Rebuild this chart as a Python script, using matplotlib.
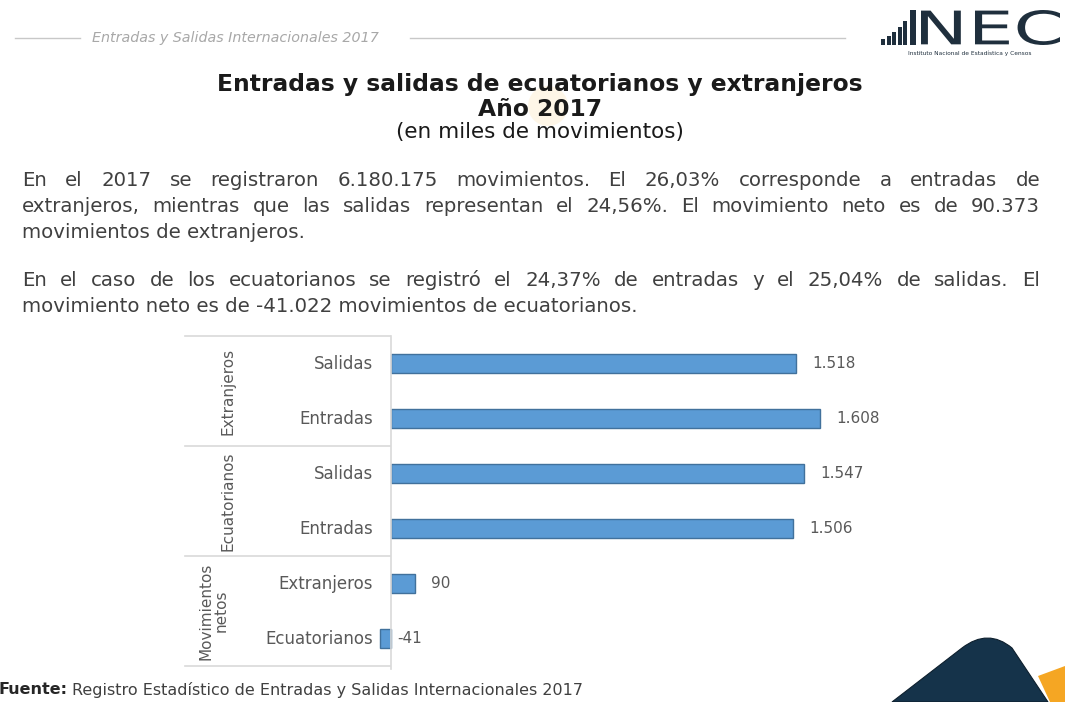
import matplotlib as mpl
import matplotlib.pyplot as plt
from matplotlib.patches import Polygon, Rectangle, Circle, PathPatch
from matplotlib.path import Path
from matplotlib.textpath import TextPath
from matplotlib.transforms import blended_transform_factory, Affine2D

# data (miles de movimientos)
grupos = ["Extranjeros", "Ecuatorianos", "Movimientos\nnetos"]
categorias = ["Salidas", "Entradas", "Salidas", "Entradas", "Extranjeros", "Ecuatorianos"]
valores = [1518, 1608, 1547, 1506, 90, -41]

titulo = "Entradas y salidas de ecuatorianos y extranjeros"
subtitulo = "Año 2017"
unidad = "(en miles de movimientos)"
encabezado = "Entradas y Salidas Internacionales 2017"
parrafo = [
    ("En el 2017 se registraron 6.180.175 movimientos. El 26,03% corresponde a entradas de", True),
    ("extranjeros, mientras que las salidas representan el 24,56%. El movimiento neto es de 90.373", True),
    ("movimientos de extranjeros.", False),
    ("En el caso de los ecuatorianos se registró el 24,37% de entradas y el 25,04% de salidas. El", True),
    ("movimiento neto es de -41.022 movimientos de ecuatorianos.", False),
]
fuente = "Registro Estadístico de Entradas y Salidas Internacionales 2017"

W, H = 1065, 702
mpl.rc('font', family='DejaVu Sans')
fig = plt.figure(figsize=(W / 100, H / 100), dpi=100)

# background axes in pixel coordinates for the slide decoration
bg = fig.add_axes([0, 0, 1, 1], zorder=0)
bg.set_xlim(0, W)
bg.set_ylim(H, 0)
bg.axis("off")

txt = "#404040"
navy = "#15334a"
logo = "#1f2f3d"

# header
bg.plot([15, 80], [38, 38], color="#c8c8c8", lw=1)
bg.plot([410, 845], [38, 38], color="#c8c8c8", lw=1)
bg.text(92, 38, encabezado, fontsize=10.3, style="italic", color="#a8a8a8", va="center")

# logo
for i, h in enumerate([6, 9, 13, 18, 24]):
    bg.add_patch(Rectangle((881 + i * 5.5, 45 - h), 4, h, color=logo, lw=0))
bg.add_patch(Rectangle((910, 10), 6, 35, color=logo, lw=0))
tp = TextPath((0, 0), "NEC", size=10)
ext = tp.get_extents()
sx = (1060 - 921) / ext.width
sy = 35 / ext.height
tp = tp.transformed(Affine2D().translate(-ext.x0, -ext.y0).scale(sx, -sy).translate(921, 45))
bg.add_patch(PathPatch(tp, facecolor=logo, lw=0))
bg.text(970, 53, "Instituto Nacional de Estadística y Censos", fontsize=4.2, color=logo,
        va="center", ha="center")

# faint glow behind the title
bg.add_patch(Circle((548, 106), 20, color="#fbd48a", alpha=0.2, lw=0))

# title
bg.text(540, 85, titulo, fontsize=16.8, fontweight="bold", color="#1a1a1a", ha="center", va="center")
bg.text(540, 109, subtitulo, fontsize=16.8, fontweight="bold", color="#1a1a1a", ha="center", va="center")
bg.text(540, 132, unidad, fontsize=15.5, color="#1a1a1a", ha="center", va="center")

# paragraph, justified lines
renderer = fig.canvas.get_renderer()
ys = [180, 206, 232, 280, 306]
x0, x1 = 22, 1040
psize = 14.2
for (line, just), y in zip(parrafo, ys):
    if not just:
        bg.text(x0, y, line, fontsize=psize, color=txt, va="center")
        continue
    words = line.split(" ")
    objs = [bg.text(0, y, w, fontsize=psize, color=txt, va="center") for w in words]
    widths = [o.get_window_extent(renderer).width for o in objs]
    gap = (x1 - x0 - sum(widths)) / (len(words) - 1)
    x = x0
    for o, w in zip(objs, widths):
        o.set_x(x)
        x += w + gap

# footer
f1 = bg.text(-2, 690, "Fuente:", fontsize=11.5, fontweight="bold", color="#262626", va="center")
fw = f1.get_window_extent(renderer).width
bg.text(-2 + fw + 5, 690, fuente, fontsize=11.5, color="#404040", va="center")

# corner shapes
bg.add_patch(Polygon([(1038, 676), (1065, 666), (1065, 702), (1050, 702)], color="#f5a623", lw=0))
verts = [(892, 702), (962, 648), (988, 628), (1012, 648), (1048, 702), (892, 702)]
codes = [Path.MOVETO, Path.LINETO, Path.CURVE3, Path.CURVE3, Path.LINETO, Path.CLOSEPOLY]
bg.add_patch(PathPatch(Path(verts, codes), facecolor=navy, edgecolor="#0d1f2d", lw=0.8))

# bar chart
ax = fig.add_axes([370 / W, 1 - 665 / H, (940 - 370) / W, (665 - 336) / H], zorder=2)
ax.patch.set_alpha(0)
pos = list(range(len(valores)))
ax.barh(pos, valores, height=0.345, color="#5b9bd5", edgecolor="#41719c", lw=1)
ax.set_xlim(-78.7, 2056)
ax.set_ylim(5.48, -0.5)
ax.axis("off")
ax.plot([0, 0], [-0.5, 5.55], color="#d9d9d9", lw=1.2, clip_on=False)

lbl = "#595959"
for p, v in zip(pos, valores):
    off = 11.5 if v > 0 else 4.5
    ax.annotate(f"{v:,}".replace(",", "."), (max(v, 0), p), xytext=(off, 0),
                textcoords="offset points", va="center", ha="left", fontsize=11, color=lbl)

tr = blended_transform_factory(bg.transData, ax.transData)
for p, c in zip(pos, categorias):
    ax.text(373, p, c, transform=tr, ha="right", va="center", fontsize=12, color=lbl)

for yy in [-0.5, 1.5, 3.5, 5.5]:
    ax.plot([185, 390], [yy, yy], transform=tr, color="#d9d9d9", lw=1.2, clip_on=False)

for g, yc, xc in zip(grupos, [0.5, 2.5, 4.5], [228, 228, 214]):
    ax.text(xc, yc, g, transform=tr, rotation=90, ha="center", va="center",
            fontsize=11, color=lbl, linespacing=1.0, multialignment="center")

fig.savefig("out.png", dpi=100)
